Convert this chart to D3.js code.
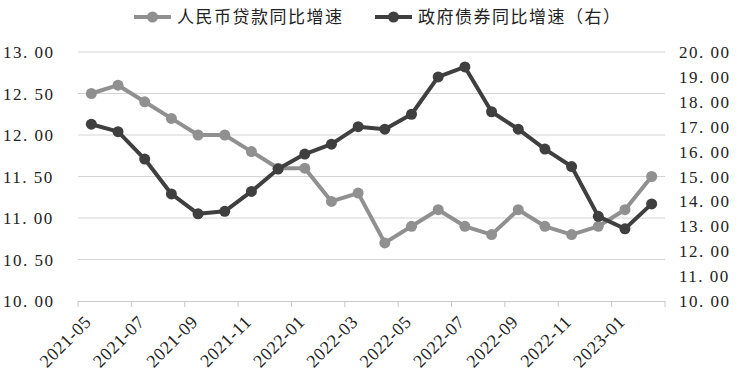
<!DOCTYPE html>
<html>
<head>
<meta charset="utf-8">
<script src="https://cdn.jsdelivr.net/npm/d3@7"></script>
<style>
  body{margin:0;background:#fff;}
  svg text{font-family:"Liberation Serif","Noto Sans CJK SC",serif;fill:#222;}
</style>
</head>
<body>
<div id="chart"></div>
<script>
// months shown on the category axis
var months = ["2021-05","2021-06","2021-07","2021-08","2021-09","2021-10","2021-11","2021-12",
  "2022-01","2022-02","2022-03","2022-04","2022-05","2022-06","2022-07","2022-08","2022-09",
  "2022-10","2022-11","2022-12","2023-01","2023-02"];
// 人民币贷款同比增速 (left axis)
var loanGrowth = [12.5,12.6,12.4,12.2,12.0,12.0,11.8,11.6,11.6,11.2,11.3,10.7,10.9,11.1,10.9,10.8,11.1,10.9,10.8,10.9,11.1,11.5];
// 政府债券同比增速 (right axis)
var bondGrowth = [17.1,16.8,15.7,14.3,13.5,13.6,14.4,15.3,15.9,16.3,17.0,16.9,17.5,19.0,19.4,17.6,16.9,16.1,15.4,13.4,12.9,13.9];
var leftTicks = [10,10.5,11,11.5,12,12.5,13];
var rightTicks = [10,11,12,13,14,15,16,17,18,19,20];
var seriesNames = ["人民币贷款同比增速","政府债券同比增速（右）"];

var W = 738, H = 386;
var plotL = 78, plotR = 665, plotT = 52, plotB = 301;
var grey = "#909090", dark = "#3f3f3f";

var svg = d3.select("#chart").append("svg").attr("width",W).attr("height",H);

var x = d3.scaleBand().domain(months).range([plotL,plotR]);
var yL = d3.scaleLinear().domain([10,13]).range([plotB,plotT]);
var yR = d3.scaleLinear().domain([10,20]).range([plotB,plotT]);

//gridlines
svg.selectAll("line.grid").data(leftTicks.slice(1)).enter().append("line")
  .attr("x1",plotL).attr("x2",plotR)
  .attr("y1",function(d){return yL(d);}).attr("y2",function(d){return yL(d);})
  .attr("stroke","#d4d4d4").attr("stroke-width",1);

// bottom axis, tick every 2 months on category edges
svg.append("line").attr("x1",plotL).attr("x2",plotR).attr("y1",plotB+0.5).attr("y2",plotB+0.5)
  .attr("stroke","#c8c8c8");
var edges = d3.range(0,months.length+1,2);
svg.selectAll("line.tk").data(edges).enter().append("line")
  .attr("x1",function(i){return i<months.length ? x(months[i]) : plotR;})
  .attr("x2",function(i){return i<months.length ? x(months[i]) : plotR;})
  .attr("y1",plotB).attr("y2",plotB+6).attr("stroke","#c8c8c8");

var labelled = months.filter(function(d,i){return i%2==0;});
svg.selectAll("text.xl").data(labelled).enter().append("text")
  .attr("transform",function(d){return "translate("+(x(d)+x.bandwidth()/2+1)+","+(plotB+22)+") rotate(-45)";})
  .attr("text-anchor","end").attr("font-size",18).attr("letter-spacing",0.6).text(function(d){return d;});

// y labels
svg.selectAll("text.yl").data(leftTicks).enter().append("text")
  .attr("x",3).attr("y",function(d){return yL(d)+6;})
  .attr("font-size",17).attr("letter-spacing",1.5)
  .text(function(d){return d3.format(".2f")(d).replace(".",". ");});
svg.selectAll("text.yr").data(rightTicks).enter().append("text")
  .attr("x",679).attr("y",function(d){return yR(d)+6;})
  .attr("font-size",17).attr("letter-spacing",1.5)
  .text(function(d){return d3.format(".2f")(d).replace(".",". ");});

function drawSeries(vals,scale,color){
  var line = d3.line()
    .x(function(d,i){return x(months[i])+x.bandwidth()/2;})
    .y(function(d){return scale(d);});
  svg.append("path").datum(vals).attr("d",line).attr("fill","none")
    .attr("stroke",color).attr("stroke-width",4).attr("stroke-linejoin","round");
  svg.selectAll(null).data(vals).enter().append("circle")
    .attr("cx",function(d,i){return x(months[i])+x.bandwidth()/2;})
    .attr("cy",function(d){return scale(d);})
    .attr("r",5.5).attr("fill",color);
}
drawSeries(loanGrowth,yL,grey);
drawSeries(bondGrowth,yR,dark);

// legend
var legendX = [134,375];
var legendCol = [grey,dark];
seriesNames.forEach(function(name,i){
  var g = svg.append("g").attr("transform","translate("+legendX[i]+",17)");
  g.append("line").attr("x1",0).attr("x2",37).attr("stroke",legendCol[i]).attr("stroke-width",4);
  g.append("circle").attr("cx",18.5).attr("r",5.5).attr("fill",legendCol[i]);
  g.append("text").attr("x",43).attr("y",6).attr("font-size",17)
    .attr("font-family","Noto Sans CJK SC").attr("letter-spacing",1.5).text(name);
});
</script>
</body>
</html>
